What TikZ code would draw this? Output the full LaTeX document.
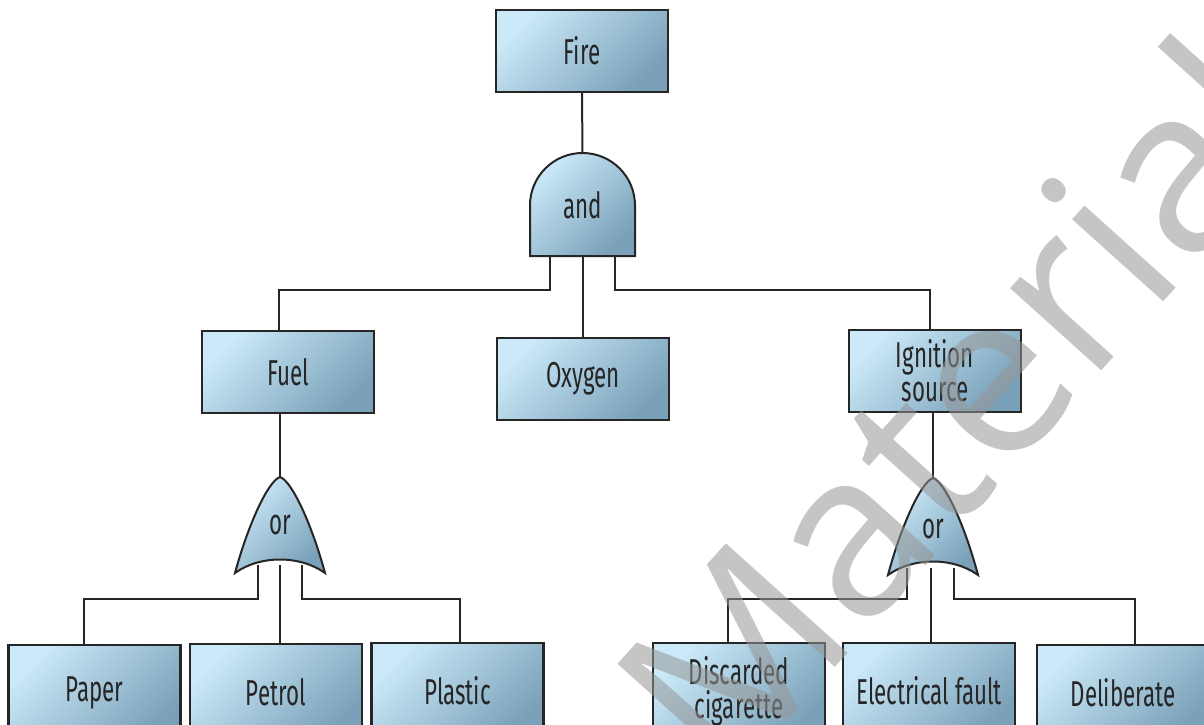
\documentclass[tikz,border=0pt]{standalone}
\usepackage{fontspec}
\setmainfont{Fira Sans}[FakeStretch=0.62]
\newfontfamily\wmfont{Open Sans}
\definecolor{boxlight}{HTML}{CBE9F8}
\definecolor{boxdark}{HTML}{7AA1B9}
\definecolor{linec}{HTML}{262626}
\definecolor{wmgray}{HTML}{969696}
\tikzset{
  ln/.style={draw=linec, line width=1.5pt},
  shd/.style={top color=boxlight, bottom color=boxdark, shading angle=45},
  evbox/.style={shd, draw=linec, line width=1.6pt, minimum width=129pt, minimum height=61.5pt,
    inner sep=0pt, align=center, font=\fontsize{27}{25.5}\selectfont, text=linec},
  lowbox/.style={evbox, minimum height=72pt},
  gate/.style={shd, draw=linec, line width=1.5pt},
  gatetext/.style={font=\fontsize{27}{25.5}\selectfont, text=linec, inner sep=0pt},
  wm/.style={text=wmgray, opacity=0.55, font=\wmfont\fontsize{172}{172}\selectfont, rotate=48}
}
\begin{document}
\begin{tikzpicture}[x=0.75pt, y=-0.75pt]
\useasboundingbox (0,0) rectangle (1204,725);
\fill[white] (0,0) rectangle (1204,725);
\clip (0,0) rectangle (1204,725);

% event boxes
\node[evbox] (fire) at (582,51) {Fire};
\node[evbox] (fuel) at (288,372) {\raisebox{-5pt}{Fuel}};
\node[evbox] (oxygen) at (583,379) {Oxygen};
\node[evbox] (ign) at (935,371) {Ignition\\source};
\node[lowbox] (paper) at (94.5,693) {Paper};
\node[lowbox] (petrol) at (276,692) {Petrol};
\node[lowbox] (plastic) at (457.5,691) {Plastic};
\node[lowbox] (disc) at (739,691) {Discarded\\cigarette};
\node[lowbox] (elec) at (929,691) {Electrical fault};
\node[lowbox] (delib) at (1123,693) {Deliberate};

% gate anchor coordinates
\coordinate (andtop) at (582.5,153);
\coordinate (andL) at (550,250);
\coordinate (andM) at (582.5,250);
\coordinate (andR) at (615,250);
\coordinate (orAtop) at (280,477);
\coordinate (orAL) at (258,565);
\coordinate (orAM) at (280,565);
\coordinate (orAR) at (302,565);
\coordinate (orBtop) at (933,478);
\coordinate (orBL) at (907,568);
\coordinate (orBM) at (931,568);
\coordinate (orBR) at (954,568);
% bend points
\coordinate (b1) at (279,290);
\coordinate (b2) at (930,290);
\coordinate (b3) at (84,599);
\coordinate (b4) at (460,599);
\coordinate (b5) at (728,599);
\coordinate (b6) at (1135,599);

% connectors
\draw[ln] (fire.south) -- (andtop);
\draw[ln] (andL) |- (b1) -- (b1 |- fuel.north);
\draw[ln] (andM) -- (andM |- oxygen.north);
\draw[ln] (andR) |- (b2) -- (b2 |- ign.north);
\draw[ln] (orAtop |- fuel.south) -- (orAtop);
\draw[ln] (orAL) |- (b3) -- (b3 |- paper.north);
\draw[ln] (orAM) -- (orAM |- petrol.north);
\draw[ln] (orAR) |- (b4) -- (b4 |- plastic.north);
\draw[ln] (orBtop |- ign.south) -- (orBtop);
\draw[ln] (orBL) |- (b5) -- (b5 |- disc.north);
\draw[ln] (orBM) -- (orBM |- elec.north);
\draw[ln] (orBR) |- (b6) -- (b6 |- delib.north);

% and gate
\path[gate] (530,256) -- (530,205.5) arc[start angle=180, end angle=360, radius=52.5] -- (635,256) -- cycle;
\node[gatetext] (andg) at (582.5,205) {and};

% or gates
\path[gate, shift={(280,477)}] (0,0) .. controls (12,4) and (32,48) .. (45,96)
   .. controls (20,78) and (-20,78) .. (-45,96)
   .. controls (-32,48) and (-12,4) .. (0,0) -- cycle;
\node[gatetext] (orA) at (280,525) {or};
\path[gate, shift={(933,478)}] (0,0) .. controls (12,4) and (32,48) .. (45,97)
   .. controls (20,79) and (-20,79) .. (-45,97)
   .. controls (-32,48) and (-12,4) .. (0,0) -- cycle;
\node[gatetext] (orB) at (933,529) {or};

% watermark
\node[wm] (mark) at (955,405) {Material};
\end{tikzpicture}
\end{document}
